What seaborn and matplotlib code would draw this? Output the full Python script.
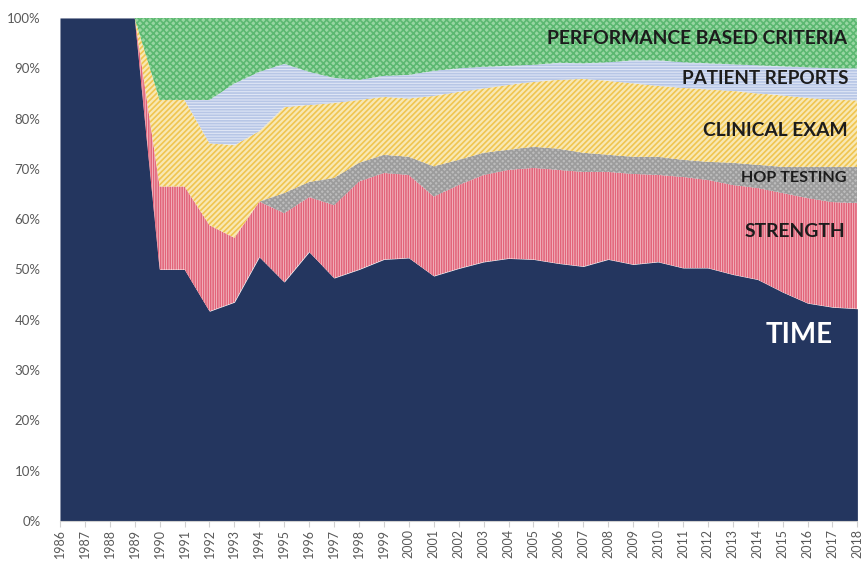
import matplotlib
matplotlib.use("Agg")
import matplotlib.pyplot as plt
import seaborn as sns

years = list(range(1986, 2019))

time_share = [100, 100, 100, 100, 50.0, 50.0, 41.7, 43.5, 52.5, 47.5, 53.5, 48.3, 50.0,
              52.0, 52.3, 48.7, 50.2, 51.5, 52.2, 52.0, 51.2, 50.6, 52.0, 51.0, 51.5,
              50.3, 50.3, 49.0, 48.0, 45.5, 43.3, 42.5, 42.2]
strength = [0, 0, 0, 0, 16.5, 16.5, 17.1, 12.8, 11.0, 13.7, 10.9, 14.5, 17.5,
            17.2, 16.5, 15.8, 16.6, 17.3, 17.6, 18.2, 18.6, 18.8, 17.4, 18.0, 17.3,
            18.1, 17.5, 17.8, 18.2, 19.7, 20.9, 20.9, 21.0]
hop_testing = [0, 0, 0, 0, 0, 0, 0, 0, 0, 4.0, 3.0, 5.4, 3.7,
               3.6, 3.6, 6.0, 5.0, 4.4, 4.0, 4.2, 4.2, 3.8, 3.4, 3.4, 3.6,
               3.4, 3.6, 4.4, 4.6, 5.2, 6.2, 7.0, 7.2]
clinical_exam = [0, 0, 0, 0, 17.2, 17.2, 16.3, 18.4, 14.0, 17.1, 15.3, 14.9, 12.5,
                 11.5, 11.6, 14.0, 13.5, 12.8, 12.9, 12.9, 13.7, 14.7, 14.7, 14.6, 14.1,
                 14.3, 14.4, 14.3, 14.2, 14.2, 13.7, 13.4, 13.2]
patient_reports = [0, 0, 0, 0, 0, 0, 8.6, 12.3, 11.8, 8.6, 6.6, 5.0, 4.0,
                   4.2, 4.7, 5.0, 4.7, 4.3, 3.8, 3.4, 3.4, 3.1, 3.7, 4.6, 5.1,
                   5.1, 5.2, 5.3, 5.6, 5.8, 6.1, 6.2, 6.4]
performance = [0, 0, 0, 0, 16.3, 16.3, 16.3, 13.0, 10.7, 9.1, 10.7, 11.9, 12.3,
               11.5, 11.3, 10.5, 10.0, 9.7, 9.5, 9.3, 8.9, 9.0, 8.8, 8.4, 8.4,
               8.8, 9.0, 9.2, 9.4, 9.6, 9.8, 10.0, 10.0]

labels = ["TIME", "STRENGTH", "HOP TESTING", "CLINICAL EXAM",
          "PATIENT REPORTS", "PERFORMANCE BASED CRITERIA"]
y_ticks = [0, 10, 20, 30, 40, 50, 60, 70, 80, 90, 100]

sns.set_theme(style="white")
plt.rcParams["font.family"] = ["Lato", "DejaVu Sans"]
plt.rcParams["hatch.linewidth"] = 1.2

fig = plt.figure(figsize=(8.63, 5.61), dpi=100)
ax = fig.add_axes([0.0695, 0.0713, 0.924, 0.8967])

# (face colour, hatch colour, hatch pattern) for each band, bottom to top
styles = [
    ("#24365f", "#24365f", None),
    ("#f6cdd2", "#e2647a", "|||||||"),
    ("#bcbcbc", "#9c9c9c", "xxxxxx"),
    ("#f8e8b4", "#f0c550", "//////"),
    ("#dfe6f5", "#b7c6e6", "------"),
    ("#98d6a2", "#5cb871", "xxxxx"),
]

polys = ax.stackplot(years, time_share, strength, hop_testing, clinical_exam,
                     patient_reports, performance, labels=labels)
for poly, (face, edge, hatch) in zip(polys, styles):
    poly.set_facecolor(face)
    poly.set_edgecolor(edge)
    poly.set_linewidth(0)
    if hatch:
        poly.set_hatch(hatch)

ax.set_xlim(years[0], years[-1])
ax.set_ylim(0, 100)
ax.set_xticks(years)
ax.set_xticklabels([str(y) for y in years], rotation=90, fontsize=9, color="#595959")
ax.set_yticks(y_ticks)
ax.set_yticklabels([f"{v}%" for v in y_ticks], fontsize=9.5, color="#595959")
ax.tick_params(axis="x", length=4, width=0.8, color="#d0d0d0", pad=2, direction="out",
               bottom=True)
ax.tick_params(axis="y", length=0, pad=14)
sns.despine(ax=ax, left=True, top=True, right=True)
ax.spines["bottom"].set_color("#d0d0d0")
ax.spines["bottom"].set_linewidth(0.8)

ink = "#1c1c1c"
ax.text(2017.6, 96.0, "PERFORMANCE BASED CRITERIA", ha="right", va="center",
        fontsize=13.9, fontweight="bold", color=ink)
ax.text(2017.65, 87.9, "PATIENT REPORTS", ha="right", va="center",
        fontsize=13.6, fontweight="bold", color=ink)
ax.text(2017.6, 77.7, "CLINICAL EXAM", ha="right", va="center",
        fontsize=13.9, fontweight="bold", color=ink)
ax.text(2017.55, 68.2, "HOP TESTING", ha="right", va="center",
        fontsize=11.6, fontweight="bold", color=ink)
ax.text(2017.5, 57.5, "STRENGTH", ha="right", va="center",
        fontsize=13.9, fontweight="bold", color=ink)
ax.text(2017.0, 37.0, "TIME", ha="right", va="center",
        fontsize=20, fontweight="bold", color="white")

fig.savefig("out.png", dpi=100)
